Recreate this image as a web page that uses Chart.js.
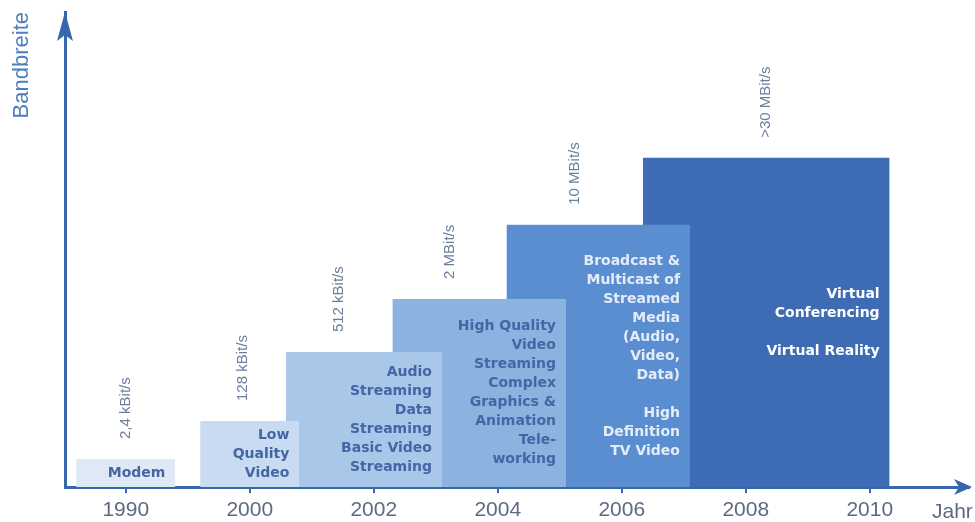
<!DOCTYPE html>
<html lang="de">
<head>
    <meta charset="UTF-8">
    <title>Bandbreite</title>
    <script src="https://cdn.jsdelivr.net/npm/chart.js"></script>
    <style>
        body {
            margin: 0;
            background-color: #fff;
        }
        canvas {
            display: block;
        }
    </style>
</head>
<body>
    <canvas id="bandChart" width="975" height="522"></canvas>

    <script>
        // Jahre auf der x-Achse (Position 0..6)
        const years = ['1990', '2000', '2002', '2004', '2006', '2008', '2010'];

        // Stufen: Beginn, Ende (in Achsenpositionen) und relative Bandbreite
        const barStart = [-0.4, 0.6, 1.29, 2.15, 3.07, 4.17];
        const barEnd = [0.4, 1.4, 2.55, 3.55, 4.55, 6.16];
        const barLevel = [5.9, 13.9, 28.4, 39.6, 55.2, 69.3];

        const rates = ['2,4 kBit/s', '128 kBit/s', '512 kBit/s', '2 MBit/s', '10 MBit/s', '>30 MBit/s'];

        const uses = [
            ['Modem'],
            ['Low', 'Quality', 'Video'],
            ['Audio', 'Streaming', 'Data', 'Streaming', 'Basic Video', 'Streaming'],
            ['High Quality', 'Video', 'Streaming', 'Complex', 'Graphics &', 'Animation', 'Tele-', 'working'],
            ['Broadcast &', 'Multicast of', 'Streamed', 'Media', '(Audio,', 'Video,', 'Data)', '', 'High', 'Definition', 'TV Video'],
            ['Virtual', 'Conferencing', '', 'Virtual Reality']
        ];

        const barColors = ['#dfe9f5', '#c8dbf0', '#a9c7e9', '#8cb2df', '#5b8ed0', '#3d6cb4'];
        const textColors = ['#4565a5', '#4565a5', '#4565a5', '#4565a5', '#e3ecf8', '#ffffff'];

        const axisColor = '#3766ad';

        // jede Stufe als waagerechte Linie, bis zur Nulllinie gefüllt
        const datasets = barLevel.map((level, i) => ({
            label: rates[i],
            data: [{ x: barStart[i], y: level }, { x: barEnd[i], y: level }],
            backgroundColor: barColors[i],
            borderColor: 'rgba(0,0,0,0)',
            borderWidth: 0,
            pointRadius: 0,
            fill: 'origin'
        }));

        // Texte in und über den Stufen, Pfeilspitzen der Achsen
        const labelPlugin = {
            id: 'stufenText',
            afterDatasetsDraw(chart) {
                const { ctx, scales: { x, y } } = chart;
                const base = y.getPixelForValue(0);
                ctx.save();

                // Anwendungen, rechtsbündig und vertikal zentriert
                ctx.font = 'bold 14px "DejaVu Sans"';
                ctx.textAlign = 'right';
                ctx.textBaseline = 'middle';
                uses.forEach((lines, i) => {
                    const top = y.getPixelForValue(barLevel[i]);
                    const mid = (top + base) / 2;
                    const right = x.getPixelForValue(barEnd[i]) - 10;
                    ctx.fillStyle = textColors[i];
                    lines.forEach((line, k) => {
                        ctx.fillText(line, right, mid + (k - (lines.length - 1) / 2) * 19);
                    });
                });

                // Datenraten, senkrecht über dem sichtbaren Teil der Stufe
                ctx.font = '15px "Liberation Sans"';
                ctx.fillStyle = '#6b7f9d';
                ctx.textAlign = 'left';
                rates.forEach((rate, i) => {
                    const visEnd = i < barStart.length - 1 ? Math.min(barEnd[i], barStart[i + 1]) : barEnd[i];
                    const cx = x.getPixelForValue((barStart[i] + visEnd) / 2);
                    const top = y.getPixelForValue(barLevel[i]);
                    ctx.save();
                    ctx.translate(cx, top - 20);
                    ctx.rotate(-Math.PI / 2);
                    ctx.fillText(rate, 0, 0);
                    ctx.restore();
                });
                ctx.restore();
            },
            afterDraw(chart) {
                const { ctx, chartArea: area } = chart;
                ctx.save();
                ctx.fillStyle = axisColor;

                // Pfeil nach oben
                const ax = area.left;
                const at = area.top;
                ctx.beginPath();
                ctx.moveTo(ax, at);
                ctx.lineTo(ax - 8, at + 29);
                ctx.lineTo(ax, at + 23);
                ctx.lineTo(ax + 8, at + 29);
                ctx.closePath();
                ctx.fill();

                // Pfeil nach rechts
                const bx = area.right + 3;
                const by = area.bottom;
                ctx.beginPath();
                ctx.moveTo(bx, by);
                ctx.lineTo(bx - 18, by - 8);
                ctx.lineTo(bx - 13, by);
                ctx.lineTo(bx - 18, by + 8);
                ctx.closePath();
                ctx.fill();

                ctx.font = '21px "Liberation Sans"';
                ctx.fillStyle = '#5d6a80';
                ctx.textAlign = 'left';
                ctx.textBaseline = 'middle';
                ctx.fillText('Jahr', area.right - 37, by + 25);
                ctx.restore();
            }
        };

        const ctx = document.getElementById('bandChart').getContext('2d');
        const bandChart = new Chart(ctx, {
            type: 'line',
            data: { datasets: datasets },
            options: {
                responsive: false,
                animation: false,
                events: [],
                layout: {
                    padding: { left: 5, top: 12, right: 6, bottom: 0 }
                },
                plugins: {
                    legend: { display: false },
                    tooltip: { enabled: false }
                },
                scales: {
                    x: {
                        type: 'linear',
                        min: -0.49,
                        max: 6.8,
                        z: 1,
                        afterBuildTicks: scale => {
                            scale.ticks = years.map((year, i) => ({ value: i }));
                        },
                        afterFit: scale => {
                            scale.height = 35;
                        },
                        ticks: {
                            callback: value => years[value],
                            color: '#5d6a80',
                            font: { family: 'Liberation Sans', size: 21 },
                            padding: 5,
                            maxRotation: 0,
                            autoSkip: false
                        },
                        grid: {
                            drawOnChartArea: false,
                            drawTicks: true,
                            tickLength: 6,
                            color: axisColor,
                            lineWidth: 2
                        },
                        border: { display: true, color: axisColor, width: 3 }
                    },
                    y: {
                        type: 'linear',
                        min: 0,
                        max: 100,
                        z: 1,
                        afterFit: scale => {
                            scale.width = 60;
                        },
                        ticks: { display: false },
                        grid: { display: false },
                        border: { display: true, color: axisColor, width: 3 },
                        title: {
                            display: true,
                            text: 'Bandbreite',
                            align: 'end',
                            color: '#4f7dbf',
                            font: { family: 'Liberation Sans', size: 22 },
                            padding: { top: 4, bottom: 4 }
                        }
                    }
                }
            },
            plugins: [labelPlugin]
        });
    </script>
</body>
</html>
